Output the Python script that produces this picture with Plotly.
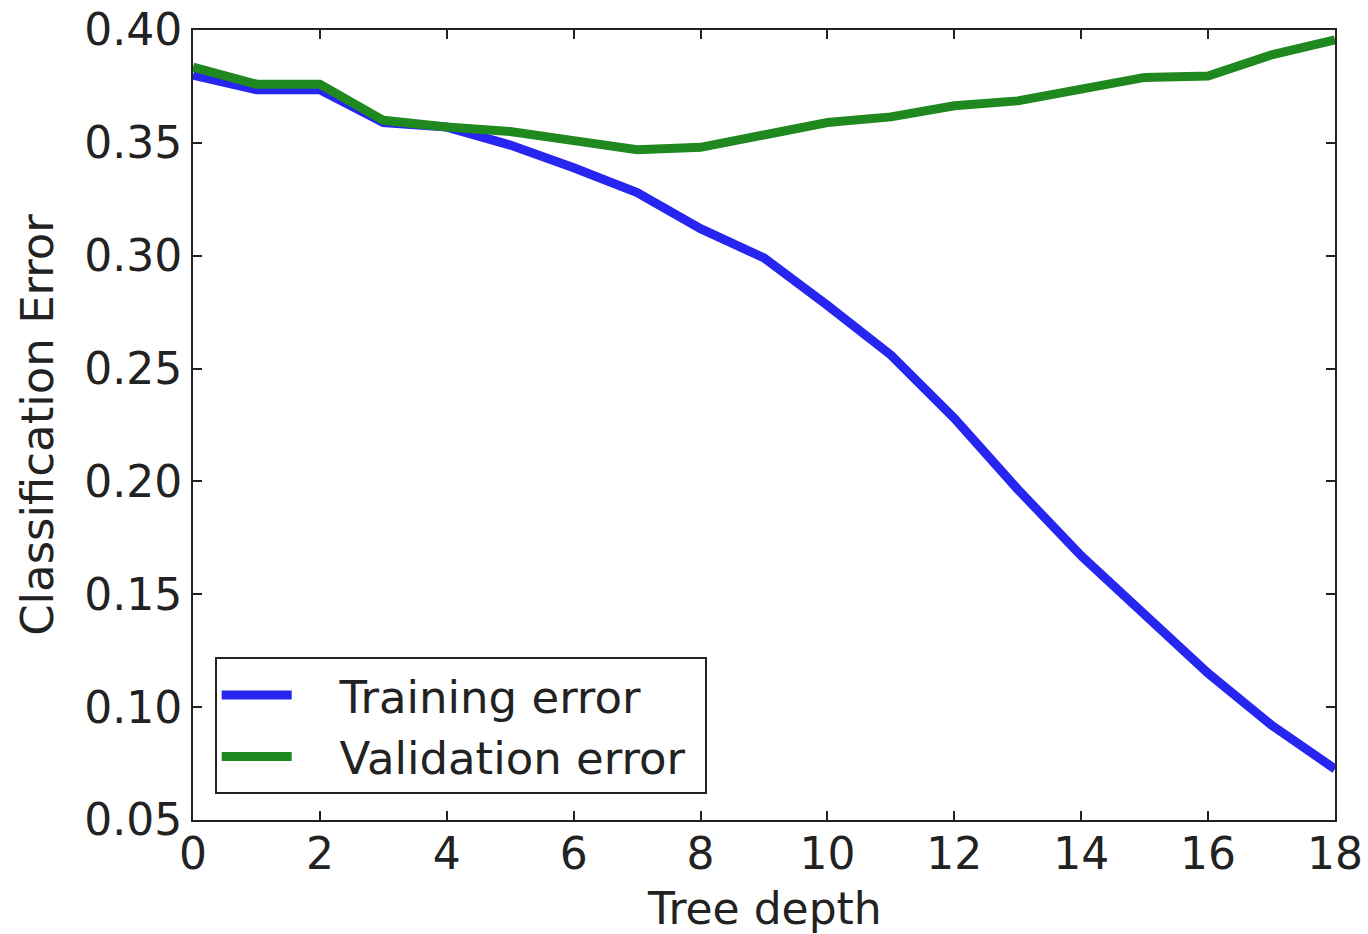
import plotly.graph_objects as go

depth = list(range(19))
training_error = [0.380, 0.3735, 0.3735, 0.359, 0.357, 0.349, 0.339, 0.328, 0.312, 0.299,
                  0.278, 0.256, 0.228, 0.1965, 0.167, 0.141, 0.115, 0.092, 0.0726]
validation_error = [0.3836, 0.376, 0.376, 0.360, 0.357, 0.355, 0.351, 0.347, 0.348, 0.3535,
                    0.359, 0.3615, 0.3664, 0.3686, 0.374, 0.379, 0.3796, 0.389, 0.3956]
x_ticks = [0, 2, 4, 6, 8, 10, 12, 14, 16, 18]
y_ticks = [0.05, 0.10, 0.15, 0.20, 0.25, 0.30, 0.35, 0.40]

FONT = "DejaVu Sans"
FS = 44

fig = go.Figure()
fig.add_trace(go.Scatter(x=depth, y=training_error, mode="lines", name="&nbsp;&nbsp;&nbsp;Training error&nbsp;",
                         line=dict(color="#2626f0", width=9)))
fig.add_trace(go.Scatter(x=depth, y=validation_error, mode="lines", name="&nbsp;&nbsp;&nbsp;Validation error&nbsp;",
                         line=dict(color="#1f891f", width=9)))

axis_common = dict(showline=True, linecolor="#222222", linewidth=2, mirror="ticks",
                   ticks="inside", ticklen=9, tickwidth=1.5, tickcolor="#222222",
                   showgrid=False, zeroline=False, automargin=False,
                   ticklabeloverflow="allow",
                   tickfont=dict(family=FONT, size=FS, color="#222222"))

fig.update_layout(
    width=1368, height=934,
    margin=dict(l=193, r=33, t=30, b=114, autoexpand=False),
    plot_bgcolor="white", paper_bgcolor="white",
    font=dict(family=FONT, color="#222222"),
    xaxis=dict(range=[0, 18], tickvals=x_ticks, ticktext=[str(v) for v in x_ticks],
               ticklabelstandoff=-6,
               **axis_common),
    yaxis=dict(range=[0.05, 0.40], tickvals=y_ticks, ticktext=[f"{v:.2f}" for v in y_ticks],
               title=dict(text="Classification Error", font=dict(family=FONT, size=45, color="#222222"), standoff=16),
               **axis_common),
    legend=dict(x=0.019, y=0.206, xanchor="left", yanchor="top",
                bordercolor="#222222", borderwidth=2, bgcolor="white",
                font=dict(family=FONT, size=45, color="#222222"),
                itemwidth=70, tracegroupgap=0),
    showlegend=True,
    annotations=[dict(text="Tree depth", xref="paper", yref="paper", x=0.5, y=0,
                      xanchor="center", yanchor="middle", yshift=-88, showarrow=False,
                      font=dict(family=FONT, size=FS, color="#222222"))],
)

# remove the default 8px page margin so the 1368x934 figure fills the window exactly
fig.write_html("out.html", config={"displayModeBar": False},
               post_script="document.body.style.margin='0';document.body.style.overflow='hidden';")
